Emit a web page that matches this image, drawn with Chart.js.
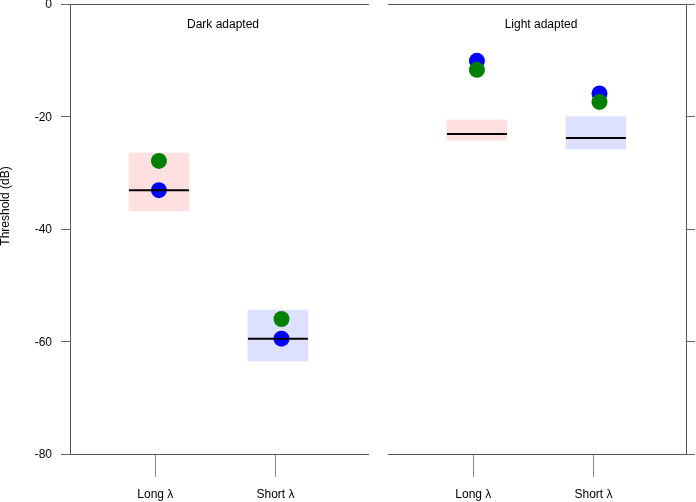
<!DOCTYPE html>
<html lang="en">
<head>
  <meta charset="UTF-8">
  <title>Threshold by adaptation</title>
  <script src="https://cdn.jsdelivr.net/npm/chart.js"></script>
  <style>
    body { margin: 0; background: #fff; }
    #wrap { position: relative; width: 696px; height: 502px; }
    #left { position: absolute; left: 0; top: 0; }
    #right { position: absolute; left: 378px; top: 0; }
  </style>
</head>
<body>
  <div id="wrap">
    <canvas id="left" width="378" height="502"></canvas>
    <canvas id="right" width="318" height="502"></canvas>
  </div>

  <script>
    // categories and where they sit on the x scale
    const catLabels = ["Long \u03bb", "Short \u03bb"];
    const catPos = [1, 2];
    const boxX = [1.03, 2.02];
    const dotX = [1.03, 2.05];
    const xMin = 0.29, xMax = 2.77;

    // Dark adapted panel
    const darkBoxLow = [-36.8, -63.5];
    const darkBoxHigh = [-26.5, -54.4];
    const darkMedian = [-33.1, -59.5];
    const darkBlue = [-33.1, -59.5];
    const darkGreen = [-27.9, -56.0];

    // Light adapted panel
    const lightBoxLow = [-24.2, -25.8];
    const lightBoxHigh = [-20.6, -20.0];
    const lightMedian = [-23.1, -23.8];
    const lightBlue = [-10.1, -15.9];
    const lightGreen = [-11.7, -17.4];

    const yTicks = [0, -20, -40, -60, -80];
    const boxColors = ["#ffe0e0", "#dde0ff"];

    const FONT = "'Liberation Sans', Arial, sans-serif";
    Chart.defaults.font.family = FONT;
    Chart.defaults.font.size = 12;
    Chart.defaults.color = "#000";

    // panel title + optional y title
    const labelsPlugin = {
      id: "panelLabels",
      afterDraw(chart, args, opts) {
        const { ctx, chartArea } = chart;
        ctx.save();
        ctx.fillStyle = "#000";
        ctx.font = "12px " + FONT;
        ctx.textAlign = "center";
        ctx.textBaseline = "middle";
        ctx.fillText(opts.title, (chartArea.left + chartArea.right) / 2 + 4, chartArea.top + 21);
        if (opts.yTitle) {
          ctx.translate(6, 206);
          ctx.rotate(-Math.PI / 2);
          ctx.fillText(opts.yTitle, 0, 0);
        }
        ctx.restore();
      }
    };

    // keep edge tick labels from pushing the plot area around
    function noPad(s) {
      s.paddingTop = 0;
      s.paddingBottom = 0;
      s.paddingLeft = 0;
      s.paddingRight = 0;
    }

    function makeData(low, high, med, blue, green) {
      return {
        datasets: [
          {
            type: "bar",
            data: boxX.map((x, i) => ({ x: x, y: [low[i], high[i]] })),
            backgroundColor: boxColors,
            barThickness: 60,
            order: 4
          },
          {
            type: "scatter",
            data: dotX.map((x, i) => ({ x: x, y: blue[i] })),
            backgroundColor: "#0000ff",
            borderWidth: 0,
            pointRadius: 8,
            order: 3
          },
          {
            type: "scatter",
            data: dotX.map((x, i) => ({ x: x, y: green[i] })),
            backgroundColor: "#008000",
            borderWidth: 0,
            pointRadius: 8,
            order: 2
          },
          {
            type: "scatter",
            data: boxX.map((x, i) => ({ x: x, y: med[i] })),
            pointStyle: "line",
            pointRadius: 30,
            borderColor: "#000",
            borderWidth: 2,
            order: 1
          }
        ]
      };
    }

    function makeScales(side) {
      const yAxis = {
        type: "linear",
        position: side,
        min: -80,
        max: 0,
        afterBuildTicks: s => { s.ticks = yTicks.map(v => ({ value: v })); },
        afterFit: s => { s.width = side === "left" ? 70 : 10; noPad(s); },
        ticks: { display: side === "left", padding: 9, labelOffset: 1, font: { size: 12 } },
        grid: { drawOnChartArea: false, tickLength: 9, color: "#666" },
        border: { color: "#555", width: 1 }
      };
      return {
        x: {
          type: "linear",
          position: "bottom",
          offset: false,
          min: xMin,
          max: xMax,
          afterBuildTicks: s => { s.ticks = catPos.map(v => ({ value: v })); },
          afterFit: s => { s.height = 48; noPad(s); },
          ticks: {
            padding: 10,
            autoSkip: false,
            maxRotation: 0,
            callback: (v, i) => catLabels[i]
          },
          grid: { offset: false, drawOnChartArea: false, tickLength: 23, color: "#888" },
          border: { color: "#555", width: 1 }
        },
        xTop: {
          type: "linear",
          position: "top",
          offset: false,
          min: xMin,
          max: xMax,
          afterFit: s => { s.height = 0; noPad(s); },
          ticks: { display: false },
          grid: { display: false },
          border: { color: "#555", width: 1 }
        },
        y: yAxis
      };
    }

    function makeChart(id, data, side, title, yTitle, padding) {
      return new Chart(document.getElementById(id), {
        type: "scatter",
        data: data,
        options: {
          responsive: false,
          devicePixelRatio: 1,
          animation: false,
          events: [],
          layout: { padding: padding, autoPadding: false },
          scales: makeScales(side),
          plugins: {
            legend: { display: false },
            tooltip: { enabled: false },
            panelLabels: { title: title, yTitle: yTitle }
          }
        },
        plugins: [labelsPlugin]
      });
    }

    makeChart("left", makeData(darkBoxLow, darkBoxHigh, darkMedian, darkBlue, darkGreen),
      "left", "Dark adapted", "Threshold (dB)", { top: 4, right: 10, left: 0, bottom: 0 });
    makeChart("right", makeData(lightBoxLow, lightBoxHigh, lightMedian, lightBlue, lightGreen),
      "right", "Light adapted", null, { top: 4, right: 0, left: 10, bottom: 0 });
  </script>
</body>
</html>
